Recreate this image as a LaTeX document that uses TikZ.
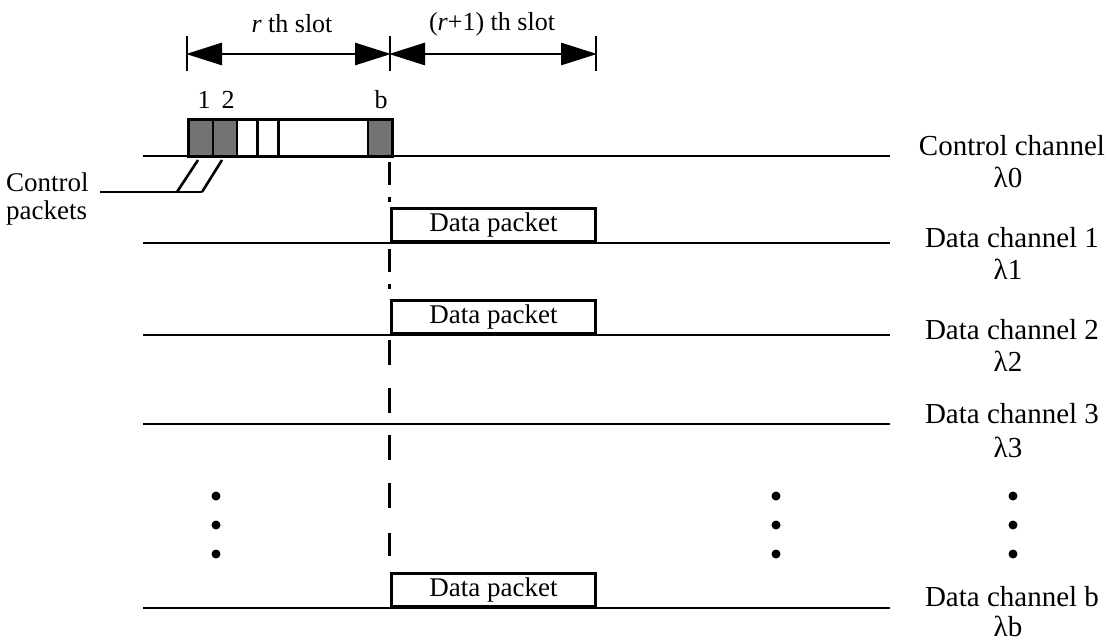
\documentclass[tikz,border=0pt]{standalone}
\usepackage{fontspec}
\setmainfont{Liberation Serif}
\usetikzlibrary{arrows.meta}
\begin{document}
\begin{tikzpicture}[x=1pt,y=-1pt,
  chan/.style={line width=2.8pt},
  pkt/.style={draw,line width=2.8pt,fill=white,minimum width=204pt,minimum height=33pt,inner sep=0pt,anchor=south west,font=\fontsize{27}{29}\selectfont},
  lbl/.style={font=\fontsize{29}{31}\selectfont,inner sep=0pt},
  lbls/.style={font=\fontsize{27}{29}\selectfont,inner sep=0pt},
  small/.style={font=\fontsize{26}{28}\selectfont,inner sep=0pt},
  tickline/.style={line width=2.8pt},
  slotarrow/.style={line width=2.8pt,{Triangle[length=36pt,width=22pt]}-{Triangle[length=36pt,width=22pt]},shorten <=-1pt,shorten >=-1pt},
  dashv/.style={line width=3pt},
  shade/.style={fill=black!55},
  dot/.style={circle,fill=black,inner sep=0pt,minimum size=9pt}]
\useasboundingbox (0,0) rectangle (1109,643);

% slot ruler
\coordinate (t0) at (187,54);
\coordinate (t1) at (390,54);
\coordinate (t2) at (596,54);
\foreach \n in {t0,t1,t2}{\draw[tickline] ([yshift=-17pt]\n) -- ([yshift=18pt]\n);}
\draw[slotarrow] (t0) -- (t1);
\draw[slotarrow] (t1) -- (t2);
\node[small] (s1) at (292,24) {\textit{r} th slot};
\node[small] (s2) at (492,24) {(\textit{r}+1) th slot};

% channel lines
\foreach \name/\y in {c0/156,c1/243,c2/335,c3/424,cb/608}{
  \coordinate (\name L) at (143,\y);
  \coordinate (\name R) at (890,\y);
  \draw[chan] (\name L) -- (\name R);
}

% control slot box
\fill[shade] (188,119) rectangle (213,156);
\fill[shade] (213,119) rectangle (237,156);
\fill[shade] (368,119) rectangle (392,156);
\draw[line width=3pt] (188,119) rectangle (392,156);
\draw[line width=2pt] (213,119) -- (213,156);
\draw[line width=2pt] (237,119) -- (237,156);
\draw[line width=3pt] (257.5,119) -- (257.5,156);
\draw[line width=3pt] (278.5,119) -- (278.5,156);
\draw[line width=2pt] (368,119) -- (368,156);
\node[small] (n1) at (204,100) {1};
\node[small] (n2) at (228,100) {2};
\node[small] (nb) at (381,100) {b};

% control packets pointer
\node[lbls,anchor=west] (cpa) at (6,182) {Control};
\node[lbls,anchor=west] (cpb) at (6,213) {packets};
\coordinate (p0) at (100,192);
\coordinate (p1) at (177,192);
\coordinate (p2) at (202,192);
\coordinate (q1) at (198,160);
\coordinate (q2) at (222,160);
\draw[line width=2.6pt] (p0) -- (p2);
\draw[line width=2.6pt] (p1) -- (q1);
\draw[line width=2.6pt] (p2) -- (q2);

% data packets
\node[pkt] (d1) at (390,243) {Data packet};
\node[pkt] (d2) at (390,335) {Data packet};
\node[pkt] (db) at (390,608) {Data packet};

% dashed vertical marker
\foreach \a/\b in {162/185,197/202,249/272,284/289,340/365,388/413,435/460,483/508,533/556}{
  \draw[dashv] (389,\a) -- (389,\b);
}

% dots
\foreach \x in {216,776,1013}{
  \foreach \y in {496,525,554}{
    \node[dot] at (\x,\y) {};
  }
}

% right labels
\node[lbl] (l0) at (1012,146) {Control channel};
\node[lbl] (g0) at (1008,177) {λ0};
\node[lbl] (l1) at (1012,238) {Data channel 1};
\node[lbl] (g1) at (1008,269) {λ1};
\node[lbl] (l2) at (1012,330) {Data channel 2};
\node[lbl] (g2) at (1008,361) {λ2};
\node[lbl] (l3) at (1012,414) {Data channel 3};
\node[lbl] (g3) at (1008,447) {λ3};
\node[lbl] (lb) at (1012,597) {Data channel b};
\node[lbl] (gb) at (1008,626) {λb};
\end{tikzpicture}
\end{document}
